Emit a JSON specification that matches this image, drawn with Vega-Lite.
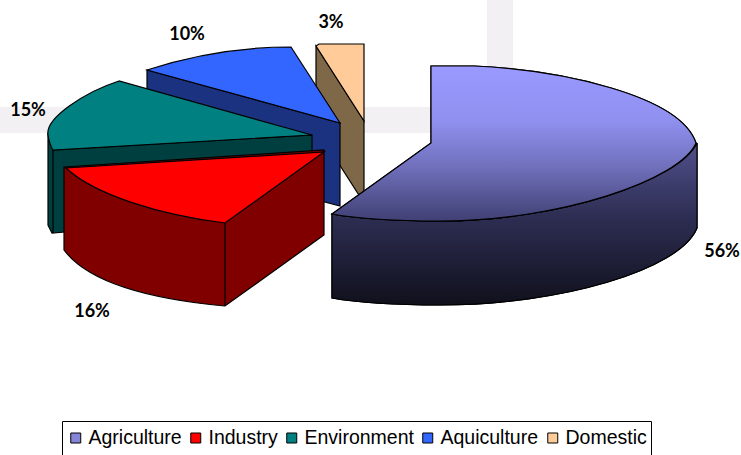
{
"$schema":"https://vega.github.io/schema/vega-lite/v6.json",
"width":741,"height":455,"padding":0,"autosize":"none",
"background":"white",
"config":{"view":{"stroke":null}},
"data":{"values":[
{"category":"Domestic","share":0.03},
{"category":"Aquiculture","share":0.10},
{"category":"Environment","share":0.15},
{"category":"Industry","share":0.16},
{"category":"Agriculture","share":0.56}
]},
"encoding":{"x":{"value":0},"y":{"value":0}},
"layer":[
{"transform":[{"filter":"datum.category==='Agriculture'"}],
 "mark":{"type":"point","shape":"M0 107L431 107L431 133L0 133Z M487 0L513 0L513 90L487 90Z","size":4,"filled":true,"fill":"#f2f0f2","stroke":null,"opacity":1}},
{"mark":{"type":"point","filled":true,"opacity":1,"stroke":"#000","strokeWidth":1.2,"size":4},
 "encoding":{
  "shape":{"field":"category","type":"nominal","legend":null,"scale":{"domain":["Domestic","Aquiculture","Environment","Industry","Agriculture"],"range":[
   "M316 46L364 121L364 203L316 128Z",
   "M147 70L340 123L340 206L147 155Z",
   "M48 133L53 150L312 135L312 215L65 232L52 233L48 225Z M53 150L53 233",
   "M64 167L324 150L324 235L225 306C160 300 90 285 64 250Z M225 223L225 306",
   "M332 214L332 298C360 303 400 305 440 305C560 305 680 270 697 228L697 143C680 180 560 221 440 221C400 221 360 219 332 214Z"
  ]}},
  "fill":{"field":"category","type":"nominal","legend":null,"scale":{"domain":["Domestic","Aquiculture","Environment","Industry","Agriculture"],"range":["#7f6847","#1a3280","#003f3f","#800000","#333360"]}}
 }},
{"transform":[{"filter":"datum.category==='Agriculture'"}],
 "mark":{"type":"point","filled":true,"opacity":1,"stroke":"#000","strokeWidth":1.2,"size":4,
  "shape":"M332 214L332 298C360 303 400 305 440 305C560 305 680 270 697 228L697 143C680 180 560 221 440 221C400 221 360 219 332 214Z",
  "fill":{"gradient":"linear","x1":0,"y1":0,"x2":0,"y2":1,"stops":[{"offset":0,"color":"#50508c"},{"offset":0.45,"color":"#2e2e54"},{"offset":1,"color":"#10101c"}]}}},
{"mark":{"type":"point","filled":true,"opacity":1,"stroke":"#000","strokeWidth":1.2,"size":4},
 "encoding":{
  "shape":{"field":"category","type":"nominal","legend":null,"scale":{"domain":["Domestic","Aquiculture","Environment","Industry","Agriculture"],"range":[
   "M316 46L319 44L364 44L364 121Z",
   "M147 70C190 56 240 47 291 47L340 123Z",
   "M119 81C85 92 45 118 48 135C49 142 51 147 53 150L312 135Z",
   "M66 168C95 195 160 215 225 223L324 152Z",
   "M332 214L431 143L431 66L474 66C560 70 680 95 696 143C680 180 560 221 440 221C400 221 360 219 332 214Z"
  ]}},
  "fill":{"field":"category","type":"nominal","title":null,
   "scale":{"domain":["Agriculture","Industry","Environment","Aquiculture","Domestic"],"range":["#8585d8","#ff0000","#008080","#3366ff","#ffcc99"]},
   "legend":{"orient":"none","legendX":62,"legendY":421,"direction":"horizontal","columns":5,"gridAlign":"each","padding":4,"clipHeight":26,"strokeColor":"#000","fillColor":"#fff","symbolType":"square","symbolSize":100,"symbolStrokeColor":"#000","symbolStrokeWidth":1,"symbolOpacity":1,"labelFont":"Liberation Sans","labelFontSize":19.5,"labelColor":"#000","labelOffset":3,"columnPadding":4,"labelLimit":200}}
 }},
{"transform":[{"filter":"datum.category==='Agriculture'"}],
 "mark":{"type":"point","filled":true,"opacity":1,"stroke":"#000","strokeWidth":1.2,"size":4,
  "shape":"M332 214L431 143L431 66L474 66C560 70 680 95 696 143C680 180 560 221 440 221C400 221 360 219 332 214Z",
  "fill":{"gradient":"linear","x1":0,"y1":0,"x2":0,"y2":1,"stops":[{"offset":0,"color":"#9999ff"},{"offset":0.35,"color":"#9090f0"},{"offset":0.65,"color":"#7070bc"},{"offset":1,"color":"#404074"}]}}},
{"transform":[{"filter":"datum.category==='Agriculture'"}],"mark":{"type":"text","font":"Lato","fontWeight":"bold","fontSize":18,"color":"#000","x":722,"y":252},"encoding":{"x":null,"y":null,"text":{"field":"share","type":"quantitative","format":".0%"}}},
{"transform":[{"filter":"datum.category==='Industry'"}],"mark":{"type":"text","font":"Lato","fontWeight":"bold","fontSize":18,"color":"#000","x":92,"y":312},"encoding":{"x":null,"y":null,"text":{"field":"share","type":"quantitative","format":".0%"}}},
{"transform":[{"filter":"datum.category==='Environment'"}],"mark":{"type":"text","font":"Lato","fontWeight":"bold","fontSize":18,"color":"#000","x":28,"y":111},"encoding":{"x":null,"y":null,"text":{"field":"share","type":"quantitative","format":".0%"}}},
{"transform":[{"filter":"datum.category==='Aquiculture'"}],"mark":{"type":"text","font":"Lato","fontWeight":"bold","fontSize":18,"color":"#000","x":187,"y":35},"encoding":{"x":null,"y":null,"text":{"field":"share","type":"quantitative","format":".0%"}}},
{"transform":[{"filter":"datum.category==='Domestic'"}],"mark":{"type":"text","font":"Lato","fontWeight":"bold","fontSize":18,"color":"#000","x":331,"y":23},"encoding":{"x":null,"y":null,"text":{"field":"share","type":"quantitative","format":".0%"}}}
],
"resolve":{"scale":{"shape":"independent","fill":"independent"}}
}
